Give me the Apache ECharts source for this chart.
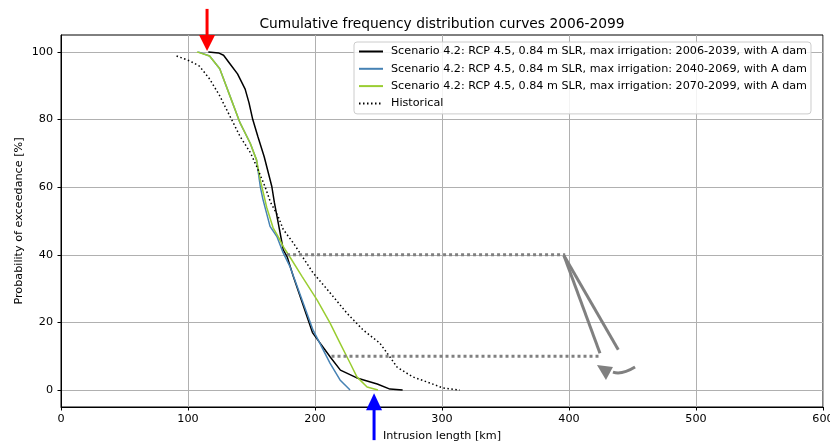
<!DOCTYPE html>
<html>
<head>
<meta charset="utf-8">
<script src="https://cdn.jsdelivr.net/npm/echarts@6/dist/echarts.min.js"></script>
<style>html,body{margin:0;padding:0;background:#fff}#chart{width:830px;height:445px}</style>
</head>
<body>
<div id="chart"></div>
<script>
// values: [intrusion length km, exceedance %]
var names = [
    'Scenario 4.2: RCP 4.5, 0.84 m SLR, max irrigation: 2006-2039, with A dam',
    'Scenario 4.2: RCP 4.5, 0.84 m SLR, max irrigation: 2040-2069, with A dam',
    'Scenario 4.2: RCP 4.5, 0.84 m SLR, max irrigation: 2070-2099, with A dam',
    'Historical'
];
var s2006 = [[116,100],[124,99.7],[128,99],[133,96.5],[139,93.5],[145,89],[148,85],[151,80],[155,75],[160,69],[166,60.2],[168,55.5],[171,49.5],[172,47.5],[175,41.5],[178,39.5],[183,33.5],[198,17],[212,9.8],[220,5.9],[233,3.6],[249,1.8],[259,0.3],[269,0]];
var s2040 = [[108,100],[117,98.8],[125,95],[133,87],[141,79],[149,73],[154,68],[157,60],[159,56.4],[164.6,48.4],[170,45.4],[174.8,40.7],[180.3,36.5],[182.7,34],[198.4,17.8],[211.8,8],[219.7,3],[227.6,0]];
var s2070 = [[107,100],[117,98.8],[125,95],[133,87],[141,79],[149,73],[154,68],[157,62],[162,54],[167,48],[171,45.4],[175,42.4],[180,39.5],[190,33.5],[201.6,26.7],[211.8,19.9],[219.7,13.9],[227.6,8],[233,3.9],[241,0.9],[249.6,0]];
var hist = [[91,98.8],[101.6,97.3],[109,95.8],[117,92],[125,87],[133,81],[141,75],[149,70.3],[154,66.2],[160.6,60.2],[165,55.5],[171,51.3],[175,47.5],[182.7,43.6],[190,39.5],[198.4,34.7],[211.8,28.8],[225,22.8],[237.8,17.8],[251,13.9],[259,9.8],[264.6,6.8],[277,3.9],[290.5,2.1],[300.8,0.6],[314,0]];

var xTicks = [0, 100, 200, 300, 400, 500, 600];
var yTicks = [0, 20, 40, 60, 80, 100];

// annotation geometry in data units
var guide40 = [[178,40],[397,40]];
var guide10 = [[213,10],[424,10]];
var slant1 = [[396,39.8],[424.4,10.9]];
var slant2 = [[396,39.8],[438.8,11.9]];
var redTip = [115, 100.3];
var blueTip = [246.5, -0.9];
var curveStart = [452, 6.8];
var curveEnd = [434.6, 5.3];
var curveTip = [429.1, 3.0];

var font = 'DejaVu Sans';
var fs = 11.2;
var colors = ['#000000', '#4682b4', '#9acd32', '#000000'];

function curve(name, data, color, dash) {
    return {
        name: name,
        type: 'line',
        data: data,
        symbol: 'none',
        z: 3,
        lineStyle: { color: color, width: 1.5, type: dash || 'solid' },
        itemStyle: { color: color }
    };
}
function guide(data, dash) {
    return {
        type: 'line',
        data: data,
        symbol: 'none',
        silent: true,
        z: 4,
        lineStyle: dash ? { color: '#808080', width: 3, type: [3, 3] } : { color: '#808080', width: 3 }
    };
}

var option = {
    animation: false,
    textStyle: { fontFamily: font },
    title: {
        text: 'Cumulative frequency distribution curves 2006-2099',
        left: 442,
        textAlign: 'center',
        top: 17,
        padding: 0,
        textStyle: { fontFamily: font, fontSize: 13.8, fontWeight: 'normal', color: '#000' }
    },
    legend: {
        data: names,
        orient: 'vertical',
        left: 354,
        top: 42,
        padding: [3, 4, 4, 4],
        itemWidth: 24,
        itemHeight: 10,
        itemGap: 4.3,
        itemStyle: { opacity: 0 },
        backgroundColor: 'rgba(255,255,255,0.85)',
        borderColor: '#cccccc',
        borderWidth: 1,
        borderRadius: 3,
        textStyle: { fontFamily: font, fontSize: fs, color: '#000', lineHeight: 13, padding: [0, 0, 0, 3] }
    },
    grid: {
        left: 61, right: 7, top: 35, bottom: 38,
        outerBoundsMode: 'none',
        containLabel: false,
        show: true, borderColor: '#000', borderWidth: 1
    },
    xAxis: {
        type: 'value',
        min: 0, max: 600, interval: 100,
        name: 'Intrusion length [km]',
        nameLocation: 'middle',
        nameGap: 24,
        nameMoveOverlap: false,
        nameTextStyle: { fontFamily: font, fontSize: fs, color: '#000' },
        axisLine: { onZero: false, lineStyle: { color: '#000', width: 1 } },
        axisTick: { show: true, length: 3.5, lineStyle: { color: '#000' } },
        axisLabel: { fontFamily: font, fontSize: fs, color: '#000', margin: 7,
            customValues: xTicks },
        splitLine: { show: true, lineStyle: { color: '#b0b0b0', width: 1 } }
    },
    yAxis: {
        type: 'value',
        min: -5, max: 105,
        name: 'Probability of exceedance [%]',
        nameLocation: 'middle',
        nameGap: 36,
        nameMoveOverlap: false,
        nameTextStyle: { fontFamily: font, fontSize: fs, color: '#000' },
        axisLine: { show: true, lineStyle: { color: '#000', width: 1 } },
        axisTick: { show: true, length: 3.5, lineStyle: { color: '#000' }, customValues: yTicks },
        axisLabel: { fontFamily: font, fontSize: fs, color: '#000', margin: 8, customValues: yTicks },
        splitLine: { show: true, lineStyle: { color: '#b0b0b0', width: 1 } }
    },
    series: [
        curve(names[0], s2006, colors[0]),
        curve(names[1], s2040, colors[1]),
        curve(names[2], s2070, colors[2]),
        curve(names[3], hist, colors[3], [1.5, 2.5]),
        guide(guide40, true),
        guide(guide10, true),
        guide(slant1),
        guide(slant2)
    ]
};

var chart = echarts.init(document.getElementById('chart'));
chart.setOption(option);

function px(p) { return chart.convertToPixel({ gridIndex: 0 }, p); }
var r = px(redTip), b = px(blueTip);
var cs = px(curveStart), ce = px(curveEnd), ct = px(curveTip);

chart.setOption({
    graphic: [
        { type: 'line', z: 10, shape: { x1: r[0], y1: r[1] - 42, x2: r[0], y2: r[1] - 14 },
          style: { stroke: '#ff0000', lineWidth: 3 } },
        { type: 'polygon', z: 10, shape: { points: [[r[0] - 8, r[1] - 16], [r[0] + 8, r[1] - 16], [r[0], r[1]]] },
          style: { fill: '#ff0000' } },
        { type: 'line', z: 10, shape: { x1: b[0], y1: b[1] + 15, x2: b[0], y2: b[1] + 47 },
          style: { stroke: '#0000ff', lineWidth: 3 } },
        { type: 'polygon', z: 10, shape: { points: [[b[0] - 8, b[1] + 17], [b[0] + 8, b[1] + 17], [b[0], b[1]]] },
          style: { fill: '#0000ff' } },
        { type: 'bezierCurve', z: 10,
          shape: { x1: cs[0], y1: cs[1], x2: ce[0], y2: ce[1], cpx1: (cs[0] + ce[0]) / 2 - 2, cpy1: cs[1] + 8 },
          style: { stroke: '#808080', lineWidth: 3, fill: null } },
        { type: 'polygon', z: 10,
          shape: { points: [[ct[0] - 9, ct[1] - 15], [ct[0] + 7, ct[1] - 13], [ct[0], ct[1]]] },
          style: { fill: '#808080' } }
    ]
});
</script>
</body>
</html>
